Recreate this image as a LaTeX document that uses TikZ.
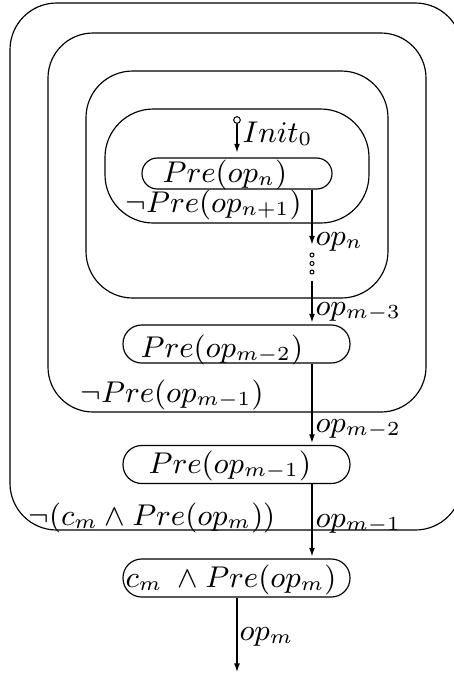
\documentclass[tikz,border=0pt]{standalone}
\usetikzlibrary{arrows.meta}
\begin{document}
\begin{tikzpicture}[x=0.3pt,y=-0.3pt,
  line width=0.35pt,
  >={Latex[length=2.6pt,width=1.8pt]},
  every node/.style={font=\small},
  region/.style={draw,rounded corners=#1},
  statebox/.style={draw,rectangle,rounded corners=5.6pt,minimum width=68.1pt,minimum height=11.4pt,inner sep=0pt},
  smallbox/.style={draw,rectangle,rounded corners=4.6pt,minimum width=57pt,minimum height=9.3pt,inner sep=0pt},
  txt/.style={anchor=base west,inner sep=0pt},
  lbl/.style={anchor=base west,inner sep=0pt},
  dot/.style={draw,circle,inner sep=0pt,minimum size=1.2pt,line width=0.3pt}]
\useasboundingbox (0,0) rectangle (454,675);
% nested regions
\draw[region=14pt] (10,3) rectangle (462,530);
\draw[region=13.5pt] (48,33) rectangle (426,412);
\draw[region=14pt] (86,71) rectangle (388,298);
\draw[region=14.5pt] (105,109) rectangle (369,223);
% state boxes
\node[smallbox] (b1) at (237,173.5) {};
\node[statebox] (b2) at (236.5,344) {};
\node[statebox] (b3) at (236.5,464.5) {};
\node[statebox] (b4) at (236.5,578) {};
% texts in boxes
\node[txt] (t1) at (162,182) {$Pre(op_n)$};
\node[txt] (t2) at (140,357) {$Pre(op_{m-2})$};
\node[txt] (t3) at (148,473) {$Pre(op_{m-1})$};
\node[txt] (t4) at (125,587) {$c_m\;\wedge Pre(op_m)$};
% region labels
\node[txt] (r1) at (125,212) {$\neg Pre(op_{n+1})$};
\node[txt] (r2) at (80,402) {$\neg Pre(op_{m-1})$};
\node[txt] (r3) at (28,525) {$\neg(c_m\wedge Pre(op_m))$};
% initial
\node[dot,minimum size=2pt] (init) at (237,120) {};
\node[lbl] (initl) at (242,142) {$Init_0$};
\draw[->,shorten >=1.5pt] (init.south) -- (init.south |- b1.north);
% dots
\coordinate (ax) at (312,0);
\node[dot] (d1) at (312,255) {};
\node[dot] (d2) at (312,263.5) {};
\node[dot] (d3) at (312,272) {};
% connectors
\draw[->,shorten >=2.4pt] (b1.south -| ax) -- (d1.north);
\draw[->,shorten <=1.8pt,shorten >=0.6pt] (d3.south) -- (b2.north -| ax);
\draw[->,shorten >=0.6pt] (b2.south -| ax) -- (b3.north -| ax);
\draw[->,shorten >=0.6pt] (b3.south -| ax) -- (b4.north -| ax);
\coordinate (end) at (237,672);
\draw[->] (b4.south -| end) -- (end);
% edge labels
\node[lbl] (l1) at (315,245) {$op_n$};
\node[lbl] (l2) at (315,315) {$op_{m-3}$};
\node[lbl] (l3) at (315,432) {$op_{m-2}$};
\node[lbl] (l4) at (315,527) {$op_{m-1}$};
\node[lbl] (l5) at (239,640) {$op_m$};
\end{tikzpicture}
\end{document}
